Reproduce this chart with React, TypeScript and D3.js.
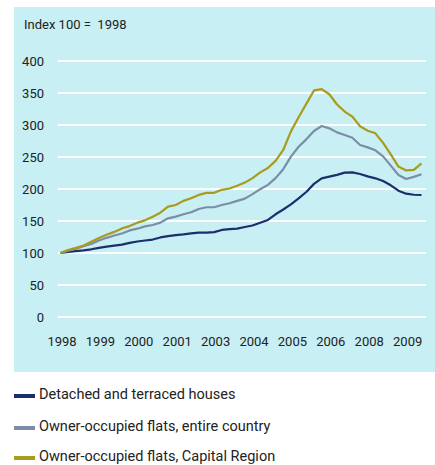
import React from "react";
import * as d3 from "d3";

const years = d3.range(1998, 2010);
const quarters: string[] = [];
years.forEach((y) => [1, 2, 3, 4].forEach((q) => quarters.push(`${y}Q${q}`)));

const tickQuarters = ["1998Q1", "1999Q2", "2000Q3", "2001Q4", "2003Q1", "2004Q2", "2005Q3", "2006Q4", "2008Q1", "2009Q2"];
const tickLabels = ["1998", "1999", "2000", "2001", "2003", "2004", "2005", "2006", "2008", "2009"];
const yTicks = [0, 50, 100, 150, 200, 250, 300, 350, 400];

const detached = [100, 101.6, 103, 104.2, 105.8, 108, 110, 111.4, 113, 115.8, 118, 119.5, 121, 124.3, 126.4, 128, 129, 130.6, 131.7, 131.7, 132.7, 136, 137.4, 138, 140.6, 143, 147.4, 151.6, 160.5, 168, 176, 185.4, 195.3, 208, 216.7, 219.3, 222, 225.5, 226, 223.4, 219.8, 216.7, 212.5, 205.8, 197.4, 192.7, 191, 190.6];
const flatsCountry = [100, 103.7, 106.8, 110.5, 114, 119.5, 123.7, 127.4, 130.5, 135.3, 138, 141.6, 143.7, 147.4, 154.2, 156.8, 160.5, 163.6, 168.8, 171.5, 171.5, 175, 177.7, 181.4, 185, 192, 199.7, 206.5, 217, 231, 250.5, 266, 277.6, 290.6, 298.4, 294.8, 288.5, 284.4, 280.2, 268.7, 265, 260.4, 251, 236.5, 221.9, 215.6, 219, 223];
const flatsCapital = [100, 104.7, 108, 111.6, 117.4, 123.5, 128.4, 133, 138.4, 142, 147.4, 151, 156.8, 163, 172.5, 175, 181.4, 185.6, 190.8, 194, 194, 198.7, 200.8, 205, 210, 217, 226, 232.7, 244, 261, 290, 312, 333, 354, 356, 348, 332, 321, 313, 298, 291, 287, 272, 254, 235, 229, 230, 240];

const seriesNames = ["Detached and terraced houses", "Owner-occupied flats, entire country", "Owner-occupied flats, Capital Region"];
const seriesColors = ["#1b2f6e", "#7b8ea6", "#a89b1e"];
const seriesData = [detached, flatsCountry, flatsCapital];

const W = 435;
const H = 465;
const FONT = "Roboto, 'Open Sans', sans-serif";

export default function App() {
  const x = d3.scalePoint<string>().domain(quarters).range([60.5, 421.5]);
  const y = d3.scaleLinear().domain([0, 400]).range([317, 61]);
  const line = d3
    .line<number>()
    .x((_, i) => x(quarters[i]) as number)
    .y((d) => y(d))
    .curve(d3.curveLinear);

  const legendY = [396, 428, 458];

  return (
    <svg width={W} height={H} style={{ position: "fixed", left: 0, top: 0, display: "block" }} fontFamily={FONT}>
      <rect x={0} y={0} width={W} height={H} fill="#ffffff" />
      <rect x={14} y={7} width={W - 14} height={365} fill="#c8eff4" />
      <text x={24} y={29} fontSize={13} fill="#222">
        Index 100 = {"\u00a0"}1998
      </text>
      {yTicks.map((t) => (
        <g key={t}>
          <line x1={58} x2={426} y1={y(t)} y2={y(t)} stroke="#ffffff" strokeWidth={2} />
          <text x={44} y={y(t) + 5} fontSize={13} textAnchor="end" fill="#222">
            {t}
          </text>
        </g>
      ))}
      {tickQuarters.map((q, i) => (
        <text key={q} x={(x(q) as number) + 1.5} y={345.5} fontSize={13} textAnchor="middle" fill="#222">
          {tickLabels[i]}
        </text>
      ))}
      {seriesData.map((d, i) => (
        <path key={i} d={line(d) || ""} fill="none" stroke={seriesColors[i]} strokeWidth={2.2} strokeLinejoin="round" />
      ))}
      {seriesNames.map((n, i) => (
        <g key={n} transform={`translate(0, ${legendY[i]})`}>
          <rect x={14} y={-2} width={21} height={4} fill={seriesColors[i]} />
          <text x={39} y={3} fontSize={14.5} fill="#222">
            {n}
          </text>
        </g>
      ))}
    </svg>
  );
}
